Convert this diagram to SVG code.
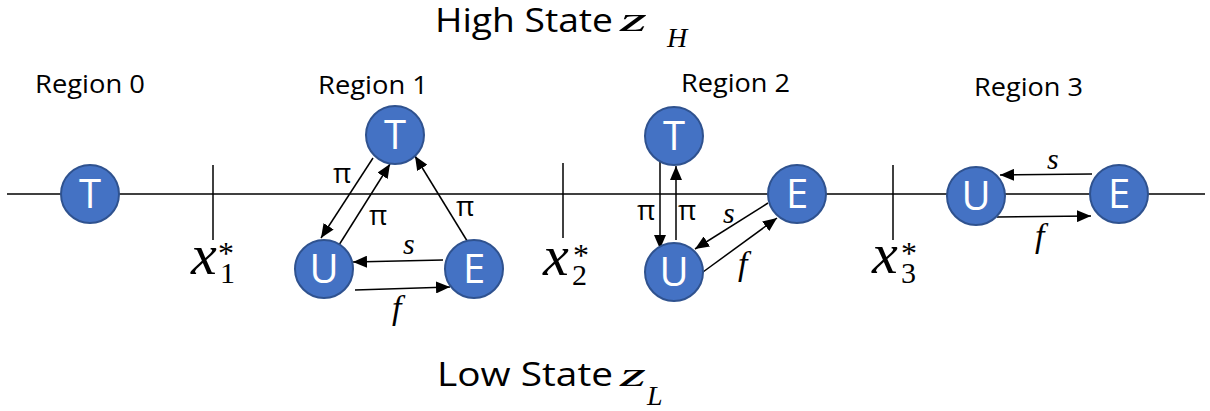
<svg xmlns="http://www.w3.org/2000/svg" width="1210" height="411" viewBox="0 0 1210 411">
<defs>
<marker id="ah" markerUnits="userSpaceOnUse" markerWidth="14" markerHeight="12" refX="14" refY="6" orient="auto">
<path d="M0,0 L14,6 L0,12 Z" fill="#000"/>
</marker>
<style>
.node circle{fill:#4472C4;stroke:#2F528F;stroke-width:2}
.node text{fill:#fff;font-family:"Open Sans","Liberation Sans",sans-serif;font-size:40px;text-anchor:middle}
.lbl{font-family:"Open Sans","Liberation Sans",sans-serif;fill:#000}
.math{font-family:"Liberation Serif","DejaVu Serif",serif;font-style:italic;fill:#000}
.up{font-style:normal}
.conn line{stroke:#000;stroke-width:1.5}
.conn line.arr{marker-end:url(#ah)}
</style>
</defs>
<rect width="1210" height="411" fill="#fff"/>

<!-- titles -->
<g id="title-high">
<text class="lbl" x="435" y="32" font-size="32" textLength="178" lengthAdjust="spacingAndGlyphs">High State</text>
<text class="math" x="620" y="31" font-size="34" textLength="27" lengthAdjust="spacingAndGlyphs">z</text>
<text class="math" x="667" y="47" font-size="28">H</text>
</g>
<g id="title-low">
<text class="lbl" x="437" y="386" font-size="32" textLength="176" lengthAdjust="spacingAndGlyphs">Low State</text>
<text class="math" x="620" y="386" font-size="34" textLength="26" lengthAdjust="spacingAndGlyphs">z</text>
<text class="math" x="647" y="405" font-size="28">L</text>
</g>

<!-- region labels -->
<g id="region-labels">
<text class="lbl" x="35" y="93" font-size="26" textLength="110" lengthAdjust="spacingAndGlyphs">Region 0</text>
<text class="lbl" x="318" y="94" font-size="26" textLength="110" lengthAdjust="spacingAndGlyphs">Region 1</text>
<text class="lbl" x="681" y="92" font-size="26" textLength="109" lengthAdjust="spacingAndGlyphs">Region 2</text>
<text class="lbl" x="974" y="96" font-size="26" textLength="109" lengthAdjust="spacingAndGlyphs">Region 3</text>
</g>

<!-- axis and thresholds -->
<g id="axis" class="conn">
<line x1="7" y1="194" x2="1205" y2="194"/>
<line x1="213" y1="165" x2="213" y2="240"/>
<line x1="563" y1="163" x2="563" y2="238"/>
<line x1="893" y1="165" x2="893" y2="240"/>
</g>
<g id="threshold-labels">
<text class="math" x="191" y="274" font-size="58">x<tspan class="up" x="220" y="283" font-size="30">1</tspan><tspan class="up" x="218" y="264" font-size="32">*</tspan></text>
<text class="math" x="543" y="275" font-size="58">x<tspan class="up" x="572" y="285" font-size="30">2</tspan><tspan class="up" x="573" y="266" font-size="32">*</tspan></text>
<text class="math" x="872" y="273" font-size="58">x<tspan class="up" x="901" y="283" font-size="30">3</tspan><tspan class="up" x="901" y="264" font-size="32">*</tspan></text>
</g>

<!-- connectors -->
<g id="connectors" class="conn">
<line class="arr" x1="373" y1="158" x2="321" y2="238"/>
<line class="arr" x1="339" y1="245" x2="390" y2="164"/>
<line class="arr" x1="469" y1="244" x2="415" y2="156"/>
<line class="arr" x1="443" y1="260" x2="353" y2="262"/>
<line class="arr" x1="355" y1="290" x2="450" y2="287"/>
<line class="arr" x1="660" y1="158" x2="660" y2="249"/>
<line class="arr" x1="676" y1="240" x2="676" y2="166"/>
<line class="arr" x1="768" y1="203" x2="695" y2="249"/>
<line class="arr" x1="703" y1="272" x2="777" y2="218"/>
<line class="arr" x1="1092" y1="174" x2="1000" y2="175"/>
<line class="arr" x1="997" y1="217" x2="1091" y2="216"/>
</g>
<g id="connector-labels">
<text class="lbl" x="333" y="183" font-size="28">π</text>
<text class="lbl" x="369" y="225" font-size="28">π</text>
<text class="lbl" x="456" y="216" font-size="28">π</text>
<text class="math" x="403" y="254" font-size="30">s</text>
<text class="math" x="392" y="319" font-size="34">f</text>
<text class="lbl" x="637" y="220" font-size="28">π</text>
<text class="lbl" x="678" y="220" font-size="28">π</text>
<text class="math" x="723" y="223" font-size="30">s</text>
<text class="math" x="738" y="275" font-size="34">f</text>
<text class="math" x="1047" y="169" font-size="30">s</text>
<text class="math" x="1035" y="247" font-size="34">f</text>
</g>

<!-- nodes -->
<g id="r0-T" class="node"><circle cx="90" cy="194" r="29"/><text x="90" y="208">T</text></g>
<g id="r1-T" class="node"><circle cx="395" cy="135" r="29"/><text x="395" y="149">T</text></g>
<g id="r1-U" class="node"><circle cx="324" cy="269" r="29"/><text x="324" y="283">U</text></g>
<g id="r1-E" class="node"><circle cx="474" cy="269" r="29"/><text x="474" y="283">E</text></g>
<g id="r2-T" class="node"><circle cx="674" cy="136" r="29"/><text x="674" y="150">T</text></g>
<g id="r2-E" class="node"><circle cx="797" cy="194" r="29"/><text x="797" y="208">E</text></g>
<g id="r2-U" class="node"><circle cx="674" cy="272" r="29"/><text x="674" y="286">U</text></g>
<g id="r3-U" class="node"><circle cx="976" cy="196" r="29"/><text x="976" y="210">U</text></g>
<g id="r3-E" class="node"><circle cx="1119" cy="194" r="29"/><text x="1119" y="208">E</text></g>
</svg>
